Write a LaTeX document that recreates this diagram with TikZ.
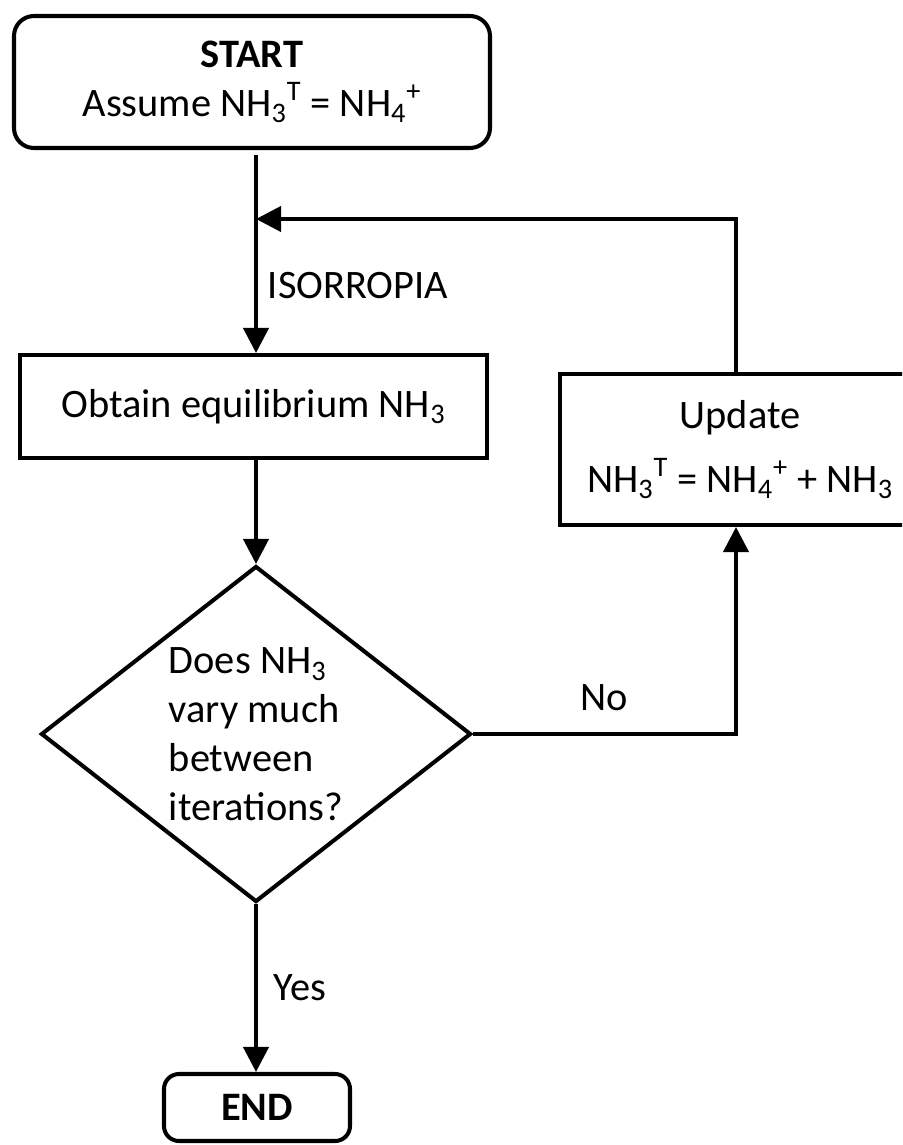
\documentclass[tikz,border=0pt]{standalone}
\usepackage{fontspec}
\setmainfont{Carlito}
\usetikzlibrary{shapes.geometric, arrows.meta, positioning}

\begin{document}
\begin{tikzpicture}[
    terminal/.style={draw, line width=\lw, rounded corners=0.4cm, align=center, inner sep=0},
    procbox/.style={draw, line width=\lw, align=center, inner sep=0},
    decision/.style={draw, diamond, line width=\lw, align=left, inner sep=0, aspect=1.28},
    flowline/.style={line width=\lw},
    flowarrow/.style={line width=\lw, -{Triangle[length=0.5cm, width=0.5cm]}},
    font=\fontsize{23}{27.8}\selectfont
]

    % Sizes
    \def\lw{2.3pt}
    \def\xcol{5.12}     % x of the main column
    \def\yjoin{-4.38}   % y of the feedback line
    \def\xloop{14.72}   % x of the loop back line

    \useasboundingbox (0,0) rectangle (18.04,-22.9);
    \clip (0,0) rectangle (18.04,-22.9);

    % Nodes
    \node[terminal, minimum width=9.52cm, minimum height=2.64cm] (start) at (5.04,-1.64)
        {\textbf{START}\\Assume NH\textsubscript{3}\textsuperscript{T} = NH\textsubscript{4}\textsuperscript{+}};
    \node[procbox, minimum width=9.34cm, minimum height=2.06cm] (obtain) at (5.07,-8.13)
        {Obtain equilibrium NH\textsubscript{3}};
    \node[decision, minimum width=8.6cm, minimum height=6.72cm] (test) at (\xcol,-14.68)
        {Does NH\textsubscript{3}\\vary much\\between\\iterations?};
    % box runs off the right edge of the picture
    \node[procbox, minimum width=8.4cm, minimum height=3.02cm] (update) at (15.4,-8.99)
        {Update\hspace*{1.2cm}\\[0.3cm]NH\textsubscript{3}\textsuperscript{T} = NH\textsubscript{4}\textsuperscript{+} + NH\textsubscript{3}\hspace*{1.2cm}};
    \node[terminal, rounded corners=0.3cm, minimum width=3.72cm, minimum height=1.34cm] (end) at (5.14,-22.15)
        {\textbf{END}};

    \coordinate (join) at (\xcol,\yjoin);
    \coordinate (loop) at (\xloop,\yjoin);

    % Connectors
    \draw[flowline, shorten <=0.1cm] (start.south -| join) -- (join);
    \draw[flowarrow] (join) -- (obtain.north -| join) node[midway, right=0.08cm] {ISORROPIA};
    \draw[flowarrow] (obtain.south -| join) -- (test.north);
    \draw[flowarrow] (update.north -| loop) -- (loop) -- (join);
    \draw[flowarrow] (test.east) -| (update.south -| loop) node[pos=0.25, above=0.3cm] {No};
    \draw[flowarrow] (test.south) -- (end.north -| join) node[midway, right=0.2cm] {Yes};

\end{tikzpicture}
\end{document}
